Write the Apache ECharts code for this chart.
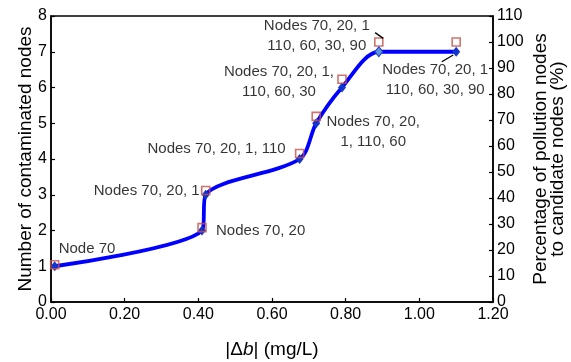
<!DOCTYPE html>
<html>
<head>
<meta charset="utf-8">
<script src="https://cdn.jsdelivr.net/npm/echarts@6/dist/echarts.min.js"></script>
<style>
  html, body { margin: 0; padding: 0; background: #fff; }
  #chart { width: 571px; height: 362px; }
</style>
</head>
<body>
<div id="chart"></div>
<script>
// |Δb| values (mg/L)
const deltaB = [0.01, 0.41, 0.42, 0.675, 0.72, 0.79, 0.89, 1.10]
// left axis: number of contaminated nodes
const contaminatedNodes = [1, 2, 3, 4, 5, 6, 7, 7]
// right axis: percentage of pollution nodes to candidate nodes (%)
const pollutionPercent = [14.3, 28.6, 42.9, 57.1, 71.4, 85.7, 100, 100]
const nodeLabels = [
  'Node 70',
  'Nodes 70, 20',
  'Nodes 70, 20, 1',
  'Nodes 70, 20, 1, 110',
  'Nodes 70, 20,\n1, 110, 60',
  'Nodes 70, 20, 1,\n110, 60, 30',
  'Nodes 70, 20, 1\n110, 60, 30, 90',
  'Nodes 70, 20, 1\n110, 60, 30, 90'
]
const xTicks = { min: 0, max: 1.2, interval: 0.2 }
const leftTicks = { min: 0, max: 8, interval: 1 }
const rightTicks = { min: 0, max: 110, interval: 10 }

// where each annotation sits relative to its red square
const labelPlacement = [
  { align: 'left', offset: [4, -16] },
  { align: 'left', offset: [14, 3] },
  { align: 'right', offset: [-6, 0] },
  { align: 'right', offset: [-14, -5] },
  { align: 'center', offset: [57, 15] },
  { align: 'center', offset: [-63, 3] },
  { align: 'center', offset: [-62, -6] },
  { align: 'center', offset: [-21, 38] }
]
// short leader lines (data coords on the right axis)
const leaderLines = [
  [[0.880, 103.6], [0.902, 101.4]],
  [[1.061, 92.4], [1.092, 95.0]]
]

const FONT = "'Liberation Sans', Arial, sans-serif"
const chart = echarts.init(document.getElementById('chart'))

const axisCommon = {
  nameMoveOverlap: false,
  axisLine: { show: true, lineStyle: { color: '#000', width: 1.5 } },
  axisTick: { show: true, inside: true, length: 4, lineStyle: { color: '#000', width: 1.2 } },
  splitLine: { show: false },
  axisLabel: { color: '#000', fontSize: 16, fontFamily: FONT },
  nameTextStyle: { color: '#000', fontSize: 19, fontFamily: FONT }
}

const option = {
  animation: false,
  grid: {
    left: 51, right: 78, top: 16, bottom: 60,
    containLabel: false,
    outerBoundsMode: 'none',
    show: true, borderColor: '#000', borderWidth: 1.5, backgroundColor: 'transparent'
  },
  xAxis: {
    type: 'value',
    ...xTicks,
    ...axisCommon,
    axisLabel: { ...axisCommon.axisLabel, margin: 5, formatter: v => v.toFixed(2) },
    name: '{n||Δ}{i|b}{n|| (mg/L)}',
    nameLocation: 'middle',
    nameGap: 38,
    nameTextStyle: {
      rich: {
        n: { fontSize: 19, fontFamily: FONT, color: '#000' },
        i: { fontSize: 19, fontFamily: FONT, color: '#000', fontStyle: 'italic' }
      }
    }
  },
  yAxis: [
    {
      type: 'value',
      position: 'left',
      ...leftTicks,
      ...axisCommon,
      axisLabel: { ...axisCommon.axisLabel, margin: 4 },
      name: 'Number of contaminated nodes',
      nameLocation: 'middle',
      nameRotate: 90,
      nameGap: 16
    },
    {
      type: 'value',
      position: 'right',
      ...rightTicks,
      ...axisCommon,
      axisLabel: { ...axisCommon.axisLabel, margin: 4 },
      name: 'Percentage of pollution nodes\nto candidate nodes (%)',
      nameLocation: 'middle',
      nameRotate: 90,
      nameGap: 39,
      nameTextStyle: { ...axisCommon.nameTextStyle, lineHeight: 17 }
    }
  ],
  series: [
    {
      name: 'contaminated',
      type: 'line',
      yAxisIndex: 0,
      smooth: 0.3,
      data: deltaB.map((x, i) => ({
        value: [x, contaminatedNodes[i]],
        itemStyle: i === 6 ? { color: '#5a95dc', borderColor: '#1f3fcf', borderWidth: 1 } : undefined
      })),
      symbol: 'diamond',
      symbolSize: [8, 10],
      showAllSymbol: true,
      itemStyle: { color: '#1233cc' },
      lineStyle: { color: '#0000ff', width: 3.8 },
      z: 2
    },
    {
      name: 'percentage',
      type: 'scatter',
      yAxisIndex: 1,
      symbol: 'rect',
      symbolSize: 8,
      itemStyle: { color: 'rgba(0,0,0,0)', borderColor: '#c4504b', borderWidth: 1.6 },
      data: deltaB.map((x, i) => ({
        value: [x, pollutionPercent[i]],
        label: {
          show: true,
          position: 'inside',
          formatter: nodeLabels[i],
          align: labelPlacement[i].align,
          verticalAlign: 'middle',
          offset: labelPlacement[i].offset,
          color: '#000',
          fontSize: 15,
          fontFamily: FONT,
          lineHeight: 20
        }
      })),
      markLine: {
        silent: true,
        symbol: 'none',
        label: { show: false },
        lineStyle: { color: '#000', width: 1.3, type: 'solid' },
        data: leaderLines.map(seg => [{ coord: seg[0] }, { coord: seg[1] }])
      },
      z: 3
    }
  ]
}

chart.setOption(option)
</script>
</body>
</html>
